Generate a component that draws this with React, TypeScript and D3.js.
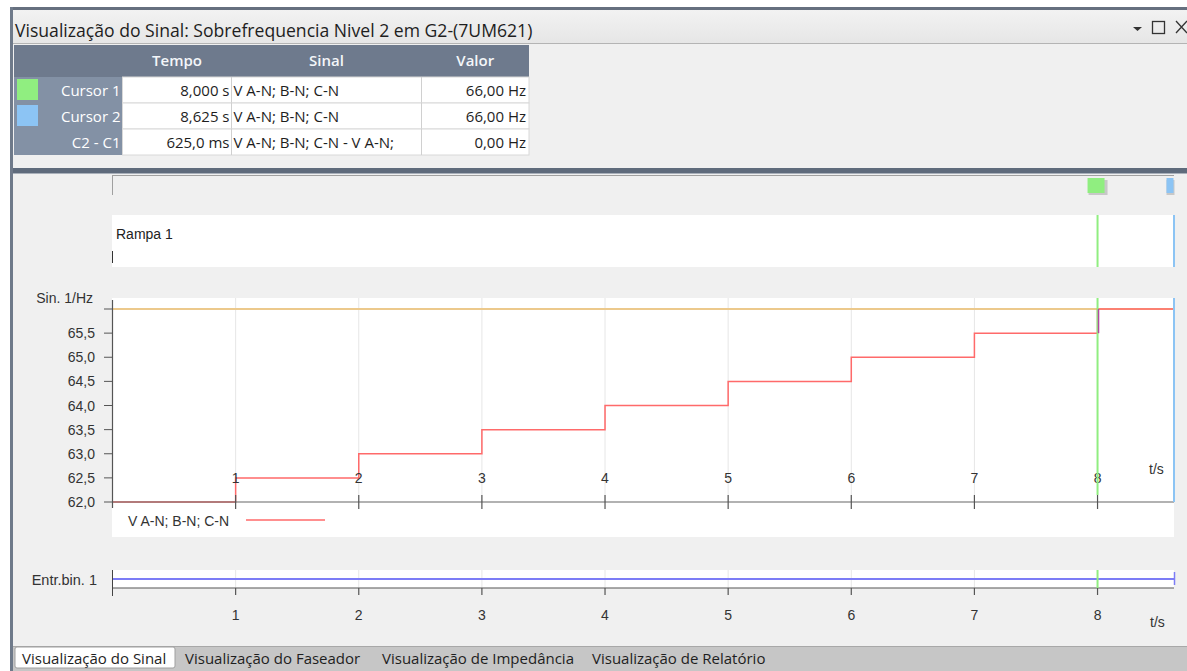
import React from "react";
import * as d3 from "d3";

// Step ramp of the measured frequency signal (s, Hz)
const stepTimes = [0, 1, 2, 3, 4, 5, 6, 7, 8, 8.625];
const freqValues = [62.0, 62.5, 63.0, 63.5, 64.0, 64.5, 65.0, 65.5, 66.0, 66.0];
const thresholdHz = 66.0;
const cursorTimes = [8.0, 8.625];
const yTicks = [62.0, 62.5, 63.0, 63.5, 64.0, 64.5, 65.0, 65.5, 66.0];
const xTicks = [1, 2, 3, 4, 5, 6, 7, 8];
const tableHeaders = ["Tempo", "Sinal", "Valor"];
const rowLabels = ["Cursor 1", "Cursor 2", "C2 - C1"];
const rowTimes = ["8,000 s", "8,625 s", "625,0 ms"];
const rowSignals = ["V A-N; B-N; C-N", "V A-N; B-N; C-N", "V A-N; B-N; C-N - V A-N;"];
const rowValues = ["66,00 Hz", "66,00 Hz", "0,00 Hz"];
const tabs = ["Visualização do Sinal", "Visualização do Faseador", "Visualização de Impedância", "Visualização de Relatório"];

const W = 1187;
const H = 671;
const UI = "'Open Sans', 'Noto Sans', sans-serif";
const CH = "'Liberation Sans', Arial, sans-serif";

export default function App() {
  const x = d3.scaleLinear().domain([0, 8.625]).range([112.5, 1174.5]);
  const y = d3.scaleLinear().domain([62, 66]).range([502, 309]);

  const stepLine = d3
    .line<number>()
    .x((_, i) => x(stepTimes[i]))
    .y((d) => y(d))
    .curve(d3.curveStepAfter);

  const cursorColors = ["#90ee80", "#8cc4f4"];
  const swatchColors = ["#90ee80", "#8cc4f4", null];

  const colX = [14, 122.5, 231.5, 421.5, 529];
  const rowY = [77, 103, 129, 155];

  const binY = 579;
  const binAxisY = 588;

  return (
    <svg width={W} height={H} style={{ position: "absolute", left: 0, top: 0, display: "block" }}>
      <defs>
        <linearGradient id="titleGrad" x1="0" y1="0" x2="0" y2="1">
          <stop offset="0" stopColor="#f2f2f2" />
          <stop offset="1" stopColor="#e6e6e6" />
        </linearGradient>
      </defs>
      <rect x={0} y={0} width={W} height={H} fill="#ffffff" />
      {/* window frame */}
      <rect x={10} y={8} width={W - 10} height={H - 8} fill="#f0f0f0" />
      <rect x={10} y={7} width={W - 10} height={3} fill="#66707f" />
      <rect x={10} y={7} width={3} height={H - 7} fill="#6f7a8a" />
      <rect x={13} y={10} width={W - 13} height={33} fill="url(#titleGrad)" />
      <line x1={13} x2={W} y1={43.5} y2={43.5} stroke="#b4b4b4" />
      <text x={15} y={37} fontFamily={UI} fontSize={17.6} fill="#1e1e1e">
        Visualização do Sinal: Sobrefrequencia Nivel 2 em G2-(7UM621)
      </text>
      {/* window buttons */}
      <path d="M1133,27 L1142,27 L1137.5,31 Z" fill="#333" />
      <rect x={1152.5} y={21.5} width={12} height={12} fill="none" stroke="#333" strokeWidth={1.3} />
      <path d="M1176,21 L1187,33 M1187,21 L1176,33" stroke="#333" strokeWidth={1.3} />

      {/* cursor table */}
      <rect x={colX[0]} y={45} width={colX[4] - colX[0]} height={32} fill="#6e7a8d" />
      {tableHeaders.map((h, i) => (
        <text key={h} x={(colX[i + 1] + colX[i + 2]) / 2} y={66} textAnchor="middle" fontFamily={UI} fontSize={15} fontWeight={600} fill="#f4f6f9">
          {h}
        </text>
      ))}
      {rowLabels.map((lab, r) => (
        <g key={lab}>
          <rect x={colX[0]} y={rowY[r]} width={colX[1] - colX[0]} height={rowY[r + 1] - rowY[r]} fill="#8391a5" />
          {swatchColors[r] && <rect x={17} y={rowY[r] + 2} width={21} height={21} fill={swatchColors[r] as string} />}
          <text x={colX[1] - 2} y={rowY[r] + 19} textAnchor="end" fontFamily={UI} fontSize={15} fontWeight={500} fill="#ffffff">
            {lab}
          </text>
          <rect x={colX[1]} y={rowY[r]} width={colX[4] - colX[1]} height={rowY[r + 1] - rowY[r]} fill="#ffffff" stroke="#d8d8d8" />
          {[2, 3].map((c) => (
            <line key={c} x1={colX[c]} x2={colX[c]} y1={rowY[r]} y2={rowY[r + 1]} stroke="#d0d0d0" />
          ))}
          <text x={colX[2] - 2} y={rowY[r] + 19} textAnchor="end" fontFamily={UI} fontSize={15} fill="#1e1e1e">
            {rowTimes[r]}
          </text>
          <text x={colX[2] + 2} y={rowY[r] + 19} fontFamily={UI} fontSize={15} fill="#1e1e1e">
            {rowSignals[r]}
          </text>
          <text x={colX[4] - 3} y={rowY[r] + 19} textAnchor="end" fontFamily={UI} fontSize={15} fill="#1e1e1e">
            {rowValues[r]}
          </text>
        </g>
      ))}

      {/* splitter */}
      <rect x={13} y={168} width={W - 13} height={5} fill="#5f6b7c" />
      <line x1={13} x2={W} y1={173.5} y2={173.5} stroke="#a9b0ba" />

      {/* cursor handle strip */}
      <line x1={112} x2={1174} y1={175.5} y2={175.5} stroke="#a0a0a0" />
      <line x1={112.5} x2={112.5} y1={175} y2={195} stroke="#a0a0a0" />
      <rect x={x(cursorTimes[0]) - 9} y={180} width={19} height={15} fill="#c8c8c8" />
      <rect x={x(cursorTimes[0]) - 10} y={178} width={17} height={15} fill={cursorColors[0]} />
      <rect x={x(cursorTimes[1]) - 8} y={180} width={8} height={15} fill="#c8c8c8" />
      <rect x={x(cursorTimes[1]) - 8} y={178} width={7} height={15} fill={cursorColors[1]} />

      {/* Rampa panel */}
      <rect x={112} y={215} width={1062} height={52} fill="#ffffff" />
      <text x={116} y={239} fontFamily={CH} fontSize={14} fill="#222">
        Rampa 1
      </text>
      <line x1={112.5} x2={112.5} y1={251} y2={263} stroke="#333" />

      {/* main signal panel */}
      <rect x={112} y={298} width={1062} height={239} fill="#ffffff" />
      {xTicks.map((t) => (
        <line key={t} x1={x(t)} x2={x(t)} y1={298} y2={502} stroke="#e6e6e6" />
      ))}
      <line x1={112.5} x2={1174} y1={y(thresholdHz)} y2={y(thresholdHz)} stroke="#ecc98c" strokeWidth={2} />
      <path d={stepLine(freqValues) ?? ""} fill="none" stroke="#ff6a6a" strokeWidth={1.5} />
      {/* axes */}
      <line x1={x(0)} x2={x(0)} y1={300} y2={508} stroke="#555" strokeWidth={1.2} />
      <line x1={x(0)} x2={1174} y1={502} y2={502} stroke="#666" strokeWidth={1.2} />
      {yTicks.map((v) => (
        <g key={v}>
          <line x1={104} x2={x(0)} y1={y(v)} y2={y(v)} stroke="#555" />
          {v < 66 && (
            <text x={95} y={y(v) + 5} textAnchor="end" fontFamily={CH} fontSize={14} fill="#333">
              {d3.format(".1f")(v).replace(".", ",")}
            </text>
          )}
        </g>
      ))}
      <text x={93} y={303} textAnchor="end" fontFamily={CH} fontSize={14} fill="#333">
        Sin. 1/Hz
      </text>
      {xTicks.map((t) => (
        <g key={t}>
          <line x1={x(t)} x2={x(t)} y1={495} y2={509} stroke="#555" strokeWidth={1.2} />
          <text x={x(t)} y={483} textAnchor="middle" fontFamily={CH} fontSize={14} fill="#333">
            {t}
          </text>
        </g>
      ))}
      <text x={1149} y={474} fontFamily={CH} fontSize={14} fill="#333">
        t/s
      </text>
      {/* legend */}
      <text x={128} y={526} fontFamily={CH} fontSize={14} fill="#333">
        V A-N; B-N; C-N
      </text>
      <line x1={246} x2={325} y1={520} y2={520} stroke="#ff6a6a" strokeWidth={1.5} />

      {/* binary input panel */}
      <rect x={112} y={570} width={1062} height={18} fill="#ffffff" />
      {xTicks.map((t) => (
        <line key={t} x1={x(t)} x2={x(t)} y1={570} y2={588} stroke="#e6e6e6" />
      ))}
      <line x1={112.5} x2={1174} y1={binY} y2={binY} stroke="#7c7cf6" strokeWidth={2} />
      <line x1={1174.5} x2={1174.5} y1={572} y2={585} stroke="#7c7cf6" strokeWidth={1.5} />
      <line x1={112} x2={1174} y1={binAxisY} y2={binAxisY} stroke="#555" strokeWidth={1.2} />
      <line x1={112.5} x2={112.5} y1={570} y2={596} stroke="#444" />
      {xTicks.map((t) => (
        <g key={t}>
          <line x1={x(t)} x2={x(t)} y1={binAxisY} y2={595} stroke="#555" strokeWidth={1.2} />
          <text x={x(t)} y={620} textAnchor="middle" fontFamily={CH} fontSize={14} fill="#333">
            {t}
          </text>
        </g>
      ))}
      <text x={1150} y={627} fontFamily={CH} fontSize={14} fill="#333">
        t/s
      </text>
      <text x={97} y={585} textAnchor="end" fontFamily={CH} fontSize={14.5} fill="#333">
        Entr.bin. 1
      </text>

      {/* cursors */}
      <line x1={x(cursorTimes[0])} x2={x(cursorTimes[0])} y1={215} y2={267} stroke={cursorColors[0]} strokeWidth={2} />
      <line x1={x(cursorTimes[0])} x2={x(cursorTimes[0])} y1={298} y2={495} stroke={cursorColors[0]} strokeWidth={2} />
      <line x1={x(cursorTimes[0])} x2={x(cursorTimes[0])} y1={570} y2={588} stroke={cursorColors[0]} strokeWidth={2} />
      <line x1={x(cursorTimes[0]) + 1} x2={x(cursorTimes[0]) + 1} y1={y(66)} y2={y(65.5)} stroke="#b04aa0" strokeWidth={1.5} />
      <line x1={x(cursorTimes[1]) - 0.5} x2={x(cursorTimes[1]) - 0.5} y1={215} y2={267} stroke={cursorColors[1]} strokeWidth={2} />
      <line x1={x(cursorTimes[1]) - 0.5} x2={x(cursorTimes[1]) - 0.5} y1={298} y2={502} stroke={cursorColors[1]} strokeWidth={2} />

      {/* tab strip */}
      <rect x={13} y={646} width={W - 13} height={H - 646} fill="#c6c6c6" />
      <line x1={13} x2={W} y1={646.5} y2={646.5} stroke="#a8a8a8" />
      <rect x={15} y={647} width={160} height={21} rx={2} fill="#ffffff" stroke="#a0a0a0" />
      {(() => {
        const starts = [22, 185, 382, 592];
        return tabs.map((t, i) => (
          <text key={t} x={starts[i]} y={664} fontFamily={UI} fontSize={15} fill="#1e1e1e">
            {t}
          </text>
        ));
      })()}
    </svg>
  );
}
